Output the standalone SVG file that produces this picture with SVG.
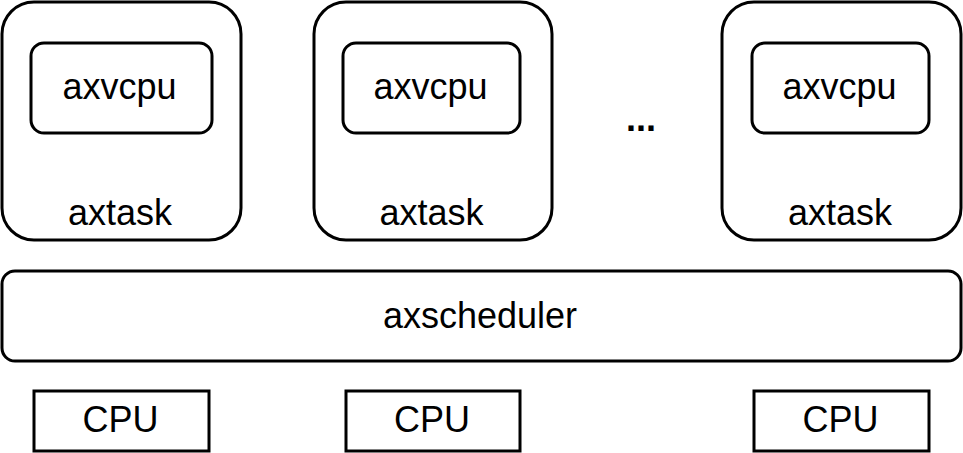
<svg xmlns="http://www.w3.org/2000/svg" width="963" height="453" viewBox="0 0 963 453">
<style>
.b{fill:#fff;stroke:#000;stroke-width:3}
.t{font-family:"Liberation Sans",Arial,sans-serif;font-size:36px;fill:#000;text-anchor:middle}
</style>
<rect width="963" height="453" fill="#fff"/>
<g id="task1"><rect class="b" x="2" y="2" width="239" height="238" rx="32"/><text class="t" x="120" y="225">axtask</text></g>
<g id="vcpu1"><rect class="b" x="31" y="43" width="181" height="90" rx="13"/><text class="t" x="119.5" y="99">axvcpu</text></g>
<g id="task2"><rect class="b" x="314" y="2" width="238" height="238" rx="32"/><text class="t" x="431.5" y="225">axtask</text></g>
<g id="vcpu2"><rect class="b" x="343" y="43" width="177" height="90" rx="13"/><text class="t" x="430.5" y="99">axvcpu</text></g>
<g id="task3"><rect class="b" x="722" y="2" width="239" height="238" rx="32"/><text class="t" x="840" y="225">axtask</text></g>
<g id="vcpu3"><rect class="b" x="752" y="43" width="177" height="90" rx="13"/><text class="t" x="839.5" y="99">axvcpu</text></g>
<g id="dots"><text class="t" x="641" y="131" font-weight="bold">...</text></g>
<g id="scheduler"><rect class="b" x="2" y="271" width="959" height="90" rx="13"/><text class="t" x="480" y="328">axscheduler</text></g>
<g id="cpu1"><rect class="b" x="34" y="391" width="175" height="60"/><text class="t" x="120.5" y="432">CPU</text></g>
<g id="cpu2"><rect class="b" x="346" y="391" width="174" height="60"/><text class="t" x="432" y="432">CPU</text></g>
<g id="cpu3"><rect class="b" x="754" y="391" width="175" height="60"/><text class="t" x="840.5" y="432">CPU</text></g>
<g id="connectors"></g>
</svg>
